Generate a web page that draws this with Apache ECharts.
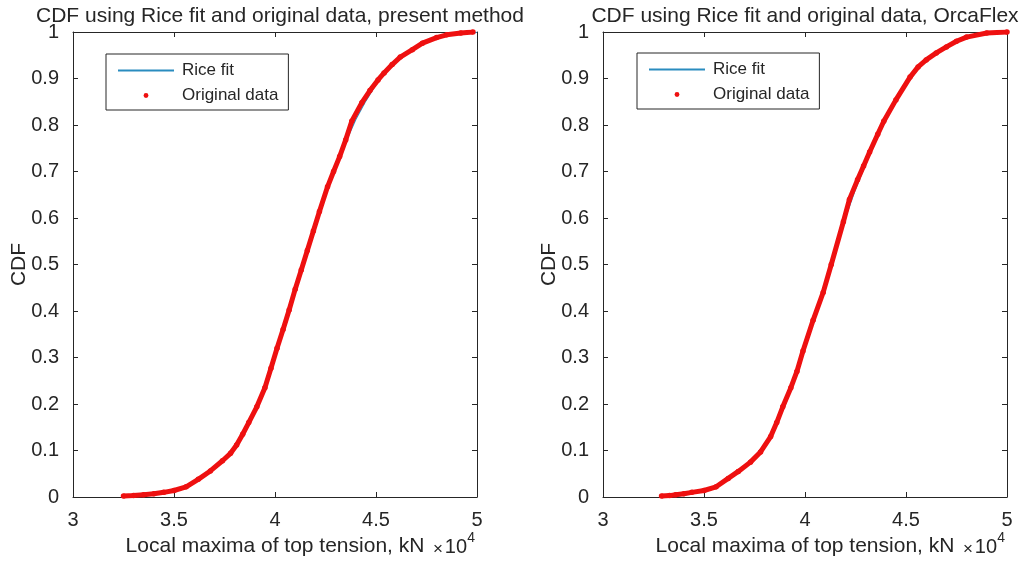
<!DOCTYPE html>
<html>
<head>
<meta charset="utf-8">
<script src="https://cdn.jsdelivr.net/npm/echarts@6/dist/echarts.min.js"></script>
<style>html,body{margin:0;padding:0;background:#fff;}#c{width:1025px;height:562px;}</style>
</head>
<body>
<div id="c"></div>
<script>
// ---- Data (x in units of 10^4 kN) ----
const leftTitle = 'CDF using Rice fit and original data, present method';
const rightTitle = 'CDF using Rice fit and original data, OrcaFlex';
const xLabel = 'Local maxima of top tension, kN';
const yLabel = 'CDF';

const leftDataX = [3.25,3.30,3.35,3.40,3.45,3.50,3.56,3.62,3.68,3.74,3.78,3.81,3.84,3.87,3.91,3.95,3.98,4.01,4.04,4.07,4.10,4.13,4.16,4.19,4.22,4.26,4.29,4.32,4.35,4.38,4.43,4.47,4.51,4.54,4.58,4.62,4.68,4.73,4.80,4.85,4.92,4.98];
const leftDataY = [0.002,0.003,0.005,0.007,0.010,0.014,0.022,0.038,0.056,0.078,0.094,0.112,0.135,0.160,0.194,0.235,0.277,0.320,0.360,0.402,0.447,0.488,0.530,0.572,0.614,0.667,0.700,0.732,0.768,0.808,0.848,0.874,0.897,0.912,0.930,0.946,0.962,0.976,0.988,0.994,0.998,1.000];
const leftFitX = [3.30,3.40,3.50,3.55,3.60,3.65,3.70,3.75,3.80,3.85,3.90,3.95,4.00,4.05,4.10,4.15,4.20,4.25,4.30,4.35,4.40,4.45,4.50,4.55,4.60,4.65,4.70,4.75,4.80,4.85,4.90,4.95,5.00];
const leftFitY = [0.001,0.005,0.012,0.020,0.031,0.047,0.065,0.085,0.108,0.143,0.185,0.232,0.302,0.367,0.440,0.515,0.585,0.652,0.708,0.763,0.812,0.852,0.887,0.915,0.939,0.956,0.969,0.979,0.987,0.992,0.996,0.998,0.999];

const rightDataX = [3.29,3.33,3.36,3.40,3.44,3.50,3.56,3.62,3.67,3.73,3.78,3.83,3.86,3.89,3.93,3.96,3.99,4.04,4.09,4.13,4.19,4.22,4.26,4.29,4.32,4.36,4.39,4.45,4.52,4.56,4.60,4.65,4.70,4.75,4.80,4.90,5.00];
const rightDataY = [0.002,0.003,0.005,0.007,0.010,0.014,0.022,0.040,0.055,0.075,0.097,0.130,0.160,0.194,0.235,0.270,0.314,0.380,0.440,0.500,0.592,0.640,0.682,0.712,0.742,0.780,0.808,0.854,0.903,0.925,0.940,0.955,0.968,0.980,0.989,0.998,1.000];
const rightFitX = [3.35,3.40,3.50,3.55,3.60,3.65,3.70,3.75,3.80,3.85,3.90,3.95,4.00,4.05,4.10,4.15,4.20,4.25,4.30,4.35,4.40,4.45,4.50,4.55,4.60,4.65,4.70,4.75,4.80,4.85,4.90,4.95,5.00];
const rightFitY = [0.001,0.004,0.012,0.020,0.032,0.048,0.066,0.087,0.113,0.148,0.195,0.255,0.322,0.392,0.462,0.532,0.600,0.662,0.715,0.765,0.810,0.850,0.885,0.915,0.940,0.958,0.971,0.981,0.988,0.993,0.996,0.998,0.999];

const xMin = 3, xMax = 5, xStep = 0.5;
const yMin = 0, yMax = 1, yStep = 0.1;
const expText = ['\u00d7', '10', '4'];

// ---- Build ----
const zip = (a, b) => a.map((v, i) => [v, b[i]]);
const FONT = '"Liberation Sans", Arial, Helvetica, sans-serif';
const TXT = '#262626';
const RED = '#ee1010';
const BLUE = '#2a8cbf';
const grids = [
  {left: 73, top: 32, width: 404, height: 465},
  {left: 603, top: 32, width: 404, height: 465}
];

function xAx(g, pos) {
  const main = pos === 'bottom';
  return {
    type: 'value', gridIndex: g, position: pos, min: xMin, max: xMax, interval: xStep,
    axisLine: {show: true, onZero: false, lineStyle: {color: TXT, width: 1}},
    axisTick: {show: true, inside: true, length: 5, lineStyle: {color: TXT}},
    axisLabel: {show: main, margin: 13, color: TXT, fontSize: 20, fontFamily: FONT},
    splitLine: {show: false},
    name: main ? xLabel : '', nameLocation: 'middle', nameGap: 39,
    nameTextStyle: {color: TXT, fontSize: 21, fontFamily: FONT}
  };
}
function yAx(g, pos) {
  const main = pos === 'left';
  return {
    type: 'value', gridIndex: g, position: pos, min: yMin, max: yMax, interval: yStep,
    axisLine: {show: true, onZero: false, lineStyle: {color: TXT, width: 1}},
    axisTick: {show: true, inside: true, length: 5, lineStyle: {color: TXT}},
    axisLabel: {show: main, margin: 14, color: TXT, fontSize: 20, fontFamily: FONT,
      formatter: v => (v === 0 ? '0' : v === 1 ? '1' : v.toFixed(1))},
    splitLine: {show: false},
    name: main ? yLabel : '', nameLocation: 'middle', nameGap: 43, nameRotate: 90,
    nameMoveOverlap: false,
    nameTextStyle: {color: TXT, fontSize: 21, fontFamily: FONT}
  };
}

function seriesFor(g, fx, fy, dx, dy) {
  return [
    {name: 'Rice fit', type: 'line', xAxisIndex: g * 2, yAxisIndex: g * 2,
      data: zip(fx, fy), symbol: 'none', smooth: false,
      lineStyle: {color: BLUE, width: 1.2}, itemStyle: {color: BLUE}, z: 2, animation: false},
    {name: 'Original data', type: 'line', xAxisIndex: g * 2, yAxisIndex: g * 2,
      data: zip(dx, dy), symbol: 'circle', symbolSize: 5.5, showSymbol: true, showAllSymbol: true,
      lineStyle: {color: RED, width: 5}, itemStyle: {color: RED}, z: 3, animation: false}
  ];
}

function legendAt(left, top) {
  return {
    orient: 'vertical', left: left, top: top,
    itemWidth: 56, itemHeight: 6, itemGap: 8,
    padding: [8, 10, 6, 11],
    backgroundColor: '#fff', borderColor: TXT, borderWidth: 1, borderRadius: 0,
    selectedMode: false,
    textStyle: {color: TXT, fontSize: 17, fontFamily: FONT, lineHeight: 17, padding: [0, 0, 0, 3]},
    data: [
      {name: 'Rice fit', itemStyle: {opacity: 0}},
      {name: 'Original data', lineStyle: {opacity: 0}}
    ]
  };
}

function expGraphic(rightEdge) {
  return [
    {type: 'text', right: 1025 - rightEdge + 34, top: 541, style: {text: expText[0], fill: TXT, font: '17px ' + FONT}},
    {type: 'text', right: 1025 - rightEdge + 10, top: 537, style: {text: expText[1], fill: TXT, font: '20px ' + FONT}},
    {type: 'text', right: 1025 - rightEdge + 2, top: 531, style: {text: expText[2], fill: TXT, font: '14px ' + FONT}}
  ];
}

const chart = echarts.init(document.getElementById('c'), null, {renderer: 'canvas'});
chart.setOption({
  animation: false,
  backgroundColor: '#fff',
  title: [
    {text: leftTitle, left: 275, top: 1, textAlign: 'center', textStyle: {color: TXT, fontSize: 21, fontWeight: 'normal', fontFamily: FONT}},
    {text: rightTitle, left: 800, top: 1, textAlign: 'center', textStyle: {color: TXT, fontSize: 21, fontWeight: 'normal', fontFamily: FONT}}
  ],
  grid: grids,
  xAxis: [xAx(0, 'bottom'), xAx(0, 'top'), xAx(1, 'bottom'), xAx(1, 'top')],
  yAxis: [yAx(0, 'left'), yAx(0, 'right'), yAx(1, 'left'), yAx(1, 'right')],
  legend: [legendAt(106, 54), legendAt(637, 53)],
  series: [].concat(
    seriesFor(0, leftFitX, leftFitY, leftDataX, leftDataY),
    seriesFor(1, rightFitX, rightFitY, rightDataX, rightDataY)
  ),
  graphic: [].concat(expGraphic(477), expGraphic(1007))
});
</script>
</body>
</html>
